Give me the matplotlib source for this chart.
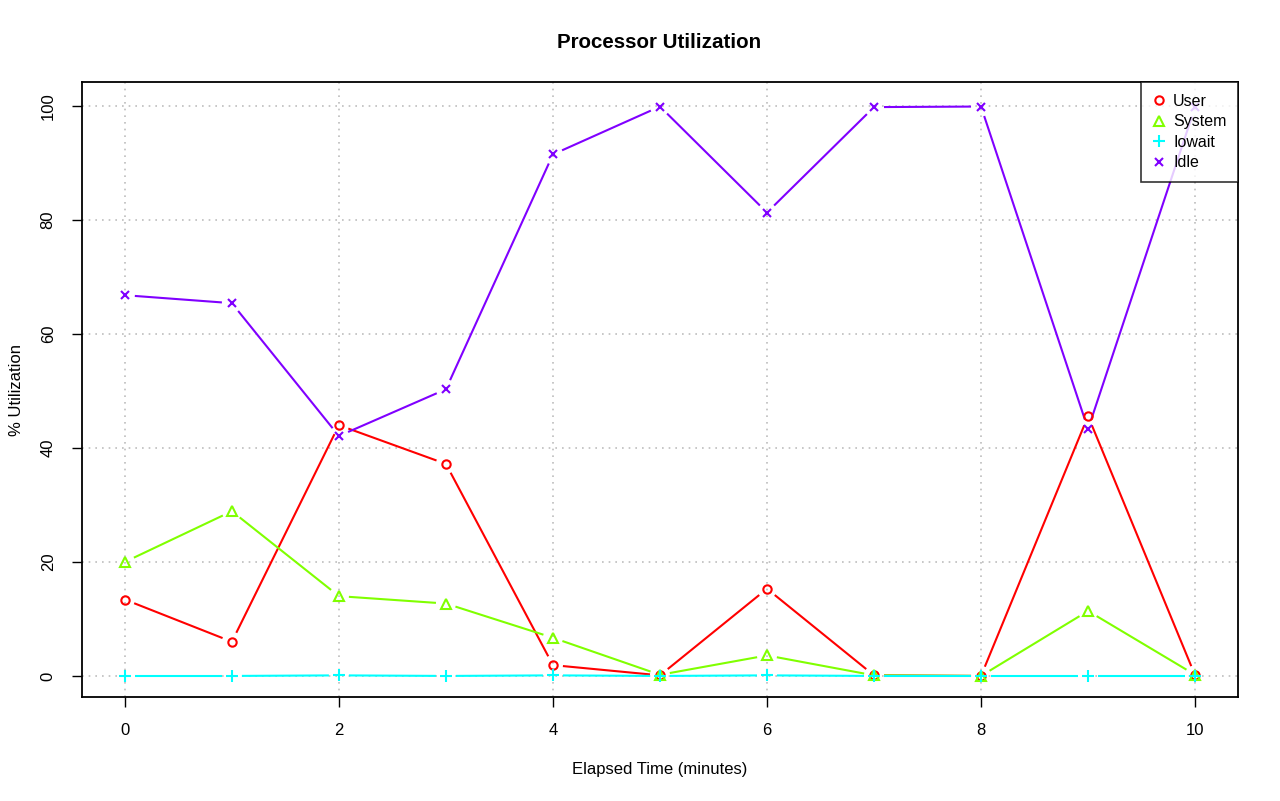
import numpy as np
import matplotlib
matplotlib.use("Agg")
import matplotlib.pyplot as plt
from matplotlib.lines import Line2D

plt.rcParams["font.family"] = ["Liberation Sans", "DejaVu Sans"]

minutes = [0, 1, 2, 3, 4, 5, 6, 7, 8, 9, 10]
user = [13.4, 6.0, 44.0, 37.2, 1.9, 0.1, 15.3, 0.1, 0.0, 45.6, 0.1]
system = [20.0, 28.9, 14.0, 12.7, 6.7, 0.2, 3.6, 0.1, 0.0, 11.4, 0.2]
iowait = [0.0, 0.0, 0.1, 0.0, 0.1, 0.0, 0.1, 0.0, 0.0, 0.0, 0.0]
idle = [66.8, 65.4, 42.1, 50.3, 91.5, 99.9, 81.3, 99.8, 99.9, 43.3, 99.8]

names = ["User", "System", "Iowait", "Idle"]
cols = ["#FF0000", "#80FF00", "#00FFFF", "#8000FF"]
marks = ["o", "^", "+", "x"]
sizes = [6, 7, 8, 6]
series = [user, system, iowait, idle]

fig = plt.figure(figsize=(12.8, 8.01), dpi=100)
ax = fig.add_axes([0.0641, 0.1298, 0.903, 0.7678])
ax.set_xlim(-0.4, 10.4)
ax.set_ylim(-3.7, 104.2)


def gapped(ax, xs, ys, col, gap=10):
    # R type="b": segments stop short of the points
    tr = ax.transData
    pts = tr.transform(np.column_stack([xs, ys]))
    for a, b in zip(pts[:-1], pts[1:]):
        d = b - a
        L = np.hypot(*d)
        if L <= 2 * gap:
            continue
        u = d / L
        seg = tr.inverted().transform(np.array([a + u * gap, b - u * gap]))
        ax.plot(seg[:, 0], seg[:, 1], "-", color=col, lw=1.5, solid_capstyle="butt", zorder=2)


for ys, c, m, s in zip(series, cols, marks, sizes):
    gapped(ax, minutes, ys, c)
    ax.plot(minutes, ys, ls="none", marker=m, ms=s, mfc="none", mec=c, mew=1.5, zorder=3)

ax.set_xticks([0, 2, 4, 6, 8, 10])
ax.set_yticks([0, 20, 40, 60, 80, 100])
ax.grid(True, ls=(0, (1, 3)), color="#bebebe", lw=1.2)
ax.set_axisbelow(True)
ax.tick_params(direction="out", length=7, width=1, labelsize=12)
ax.tick_params(axis="x", pad=12)
ax.tick_params(axis="y", pad=12)
for lab in ax.get_yticklabels():
    lab.set_rotation(90)
    lab.set_va("center")
for s in ax.spines.values():
    s.set_linewidth(1.3)

ax.set_xlabel("Elapsed Time (minutes)", fontsize=12, labelpad=17)
ax.set_ylabel("% Utilization", fontsize=12, labelpad=12)
fig.text(0.515, 0.947, "Processor Utilization", ha="center", va="center",
         fontsize=14.8, weight="bold")

handles = [Line2D([], [], ls="none", marker=m, color=c, mfc="none", mec=c, mew=1.5, ms=s)
           for c, m, s in zip(cols, marks, sizes)]
leg = ax.legend(handles, names, loc="upper right", fontsize=11.5, frameon=True,
                fancybox=False, borderaxespad=0, handlelength=0.8, handletextpad=0.5,
                labelspacing=0.35, borderpad=0.72)
leg.get_frame().set_edgecolor("black")
leg.get_frame().set_linewidth(1.2)

fig.savefig("out.png", dpi=100)
